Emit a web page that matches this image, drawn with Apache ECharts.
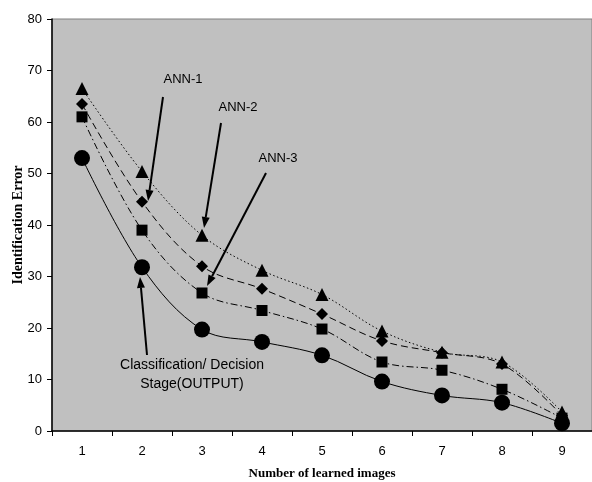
<!DOCTYPE html>
<html><head><meta charset="utf-8">
<script src="https://cdn.jsdelivr.net/npm/echarts@6/dist/echarts.min.js"></script>
<style>html,body{margin:0;padding:0;background:#fff}#c{width:592px;height:482px}</style>
</head><body><div id="c"></div>
<script>
const categories = ['1','2','3','4','5','6','7','8','9'];
const ann1 = [66.5, 50.4, 38.0, 31.2, 26.5, 19.4, 15.3, 13.4, 3.7];
const ann2 = [63.5, 44.5, 32.0, 27.6, 22.7, 17.5, 15.2, 13.0, 3.0];
const ann3 = [61.0, 39.0, 26.8, 23.4, 19.8, 13.4, 11.8, 8.1, 2.5];
const output = [53.0, 31.8, 19.7, 17.3, 14.7, 9.6, 6.9, 5.5, 1.5];

const chart = echarts.init(document.getElementById('c'));
const tickFont = {fontFamily:'Liberation Sans, Arial', fontSize:13, color:'#000'};
function ser(name, data, symbol, size, type){
  return {name, type:'line', data, smooth:0.35, symbol, symbolSize:size,
    itemStyle:{color:'#000'}, lineStyle:{color:'#000', width:1, type}};
}
function arrow(x1,y1,x2,y2){
  const a = Math.atan2(y2-y1, x2-x1), L=11, W=4;
  const bx = x2 - L*Math.cos(a), by = y2 - L*Math.sin(a);
  const px = -Math.sin(a)*W, py = Math.cos(a)*W;
  return [
    {type:'line', shape:{x1,y1,x2:bx,y2:by}, style:{stroke:'#000', lineWidth:2}},
    {type:'polygon', shape:{points:[[x2,y2],[bx+px,by+py],[bx-px,by-py]]}, style:{fill:'#000'}}
  ];
}
const txt = (x,y,t,s)=>({type:'text', x, y, style:{text:t, fill:'#000', font:s+'px "Liberation Sans", Arial', align:'center', verticalAlign:'middle'}});
chart.setOption({
  animation:false,
  grid:{left:52, right:0, top:19, bottom:51, outerBoundsMode:'none', containLabel:false, show:true, backgroundColor:'#c0c0c0', borderColor:'#808080', borderWidth:1},
  xAxis:{type:'category', data:categories, boundaryGap:true,
    axisLine:{lineStyle:{color:'#000', width:1.5}}, axisTick:{show:true, length:5, lineStyle:{color:'#000'}},
    axisLabel:Object.assign({margin:14}, tickFont),
    name:'Number of learned images', nameLocation:'middle', nameGap:36, nameMoveOverlap:false,
    nameTextStyle:{fontFamily:'Liberation Serif, Times New Roman', fontWeight:'bold', fontSize:13, color:'#000'}},
  yAxis:{type:'value', min:0, max:80, interval:10,
    axisLine:{show:true, lineStyle:{color:'#000', width:1.5}}, axisTick:{show:true, length:5, lineStyle:{color:'#000'}},
    splitLine:{show:false}, axisLabel:Object.assign({margin:10}, tickFont),
    name:'Identification Error', nameLocation:'middle', nameGap:27, nameMoveOverlap:false,
    nameTextStyle:{fontFamily:'Liberation Serif, Times New Roman', fontWeight:'bold', fontSize:14, color:'#000'}},
  series:[
    ser('ANN-1', ann1, 'triangle', 13, [1.5,2.5]),
    ser('ANN-2', ann2, 'diamond', 12, [7,4]),
    ser('ANN-3', ann3, 'rect', 11, [7,3,1.5,3]),
    ser('OUTPUT', output, 'circle', 16, 'solid')
  ],
  graphic:[].concat(
    arrow(163,97,148,201), arrow(221,123,204,228), arrow(266,173,207,286), arrow(147,355,140,277),
    [txt(183,79,'ANN-1',13), txt(238,107,'ANN-2',13), txt(278,158,'ANN-3',13),
     txt(192,365,'Classification/ Decision',14), txt(192,384,'Stage(OUTPUT)',14)]
  )
});
</script></body></html>
